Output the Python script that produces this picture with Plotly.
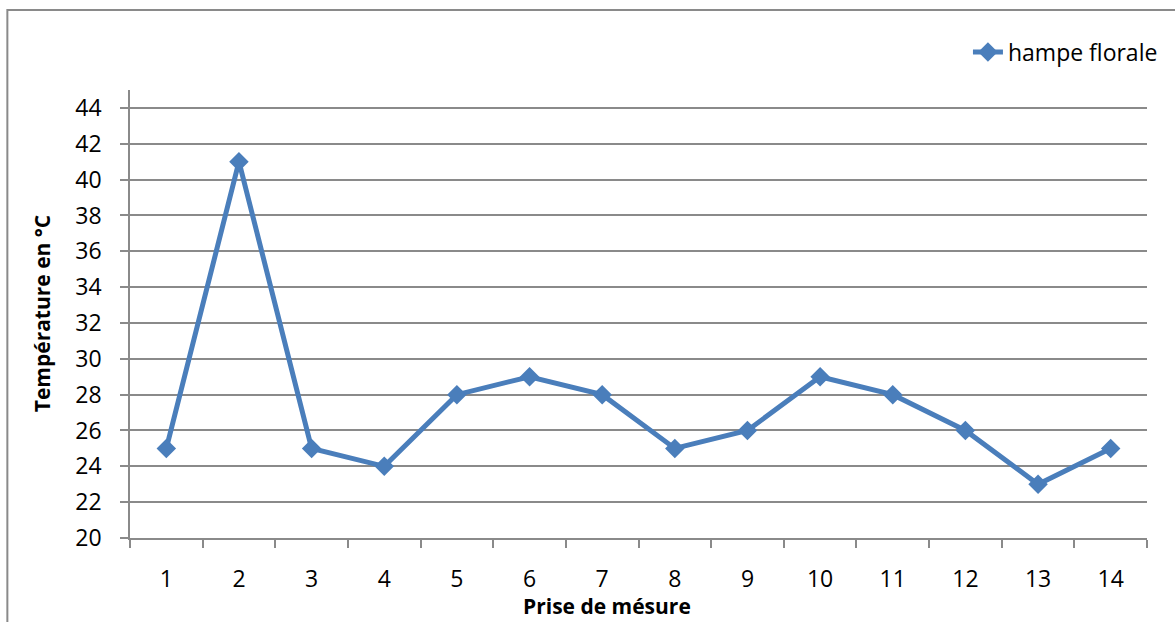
import plotly.graph_objects as go

# Measurements of the flower stalk temperature
mesures = ["1", "2", "3", "4", "5", "6", "7", "8", "9", "10", "11", "12", "13", "14"]
temperatures = [25, 41, 25, 24, 28, 29, 28, 25, 26, 29, 28, 26, 23, 25]
y_ticks = [20, 22, 24, 26, 28, 30, 32, 34, 36, 38, 40, 42, 44]

W, H = 1175, 622
L, R, T, B = 130, 25, 90, 84
pw, ph = W - L - R, H - T - B

def px_x(x):
    return (x - L) / pw

def px_y(y):
    return (H - B - y) / ph

FONT = "Open Sans"
BLUE = "#4A7EBB"
GRID = "#8a8a8a"
TICK_FONT = dict(family=FONT, size=23, color="black")

fig = go.Figure()
fig.add_trace(go.Scatter(
    x=mesures, y=temperatures, mode="lines+markers", name="hampe florale",
    line=dict(color=BLUE, width=5),
    marker=dict(symbol="diamond", size=15, color=BLUE),
))

fig.update_layout(
    width=W, height=H,
    margin=dict(l=L, r=R, t=T, b=B),
    paper_bgcolor="white", plot_bgcolor="white",
    font=dict(family=FONT, size=21, color="black"),
    showlegend=True,
    legend=dict(x=px_x(1166), xanchor="right", y=px_y(52), yanchor="middle",
                font=dict(size=23), bgcolor="rgba(0,0,0,0)"),
    xaxis=dict(
        type="category", range=[-0.5, 13.5], autorange=False,
        showgrid=False, showline=True, linecolor=GRID, linewidth=1.5,
        ticks="outside", ticklen=8, tickcolor=GRID, tickwidth=1.5, tickson="boundaries",
        ticklabelstandoff=20, tickfont=TICK_FONT, fixedrange=True,
    ),
    yaxis=dict(
        range=[20, 45], tickvals=y_ticks, showgrid=True, gridcolor=GRID, gridwidth=1.5,
        showline=True, linecolor=GRID, linewidth=1.5, zeroline=False,
        ticks="outside", ticklen=8, tickcolor=GRID, tickwidth=1.5,
        ticklabelstandoff=14, tickfont=TICK_FONT,
    ),
    shapes=[dict(
        type="rect", xref="paper", yref="paper",
        x0=px_x(7), x1=px_x(1185), y0=px_y(640), y1=px_y(10),
        line=dict(color=GRID, width=2), fillcolor="rgba(0,0,0,0)", layer="above",
    )],
    annotations=[
        dict(text="<b>Température en °C</b>", xref="paper", yref="paper",
             x=px_x(42), y=px_y(314), textangle=-90, showarrow=False,
             font=dict(size=21), xanchor="center", yanchor="middle"),
        dict(text="<b>Prise de mésure</b>", xref="paper", yref="paper",
             x=px_x(608), y=px_y(606), showarrow=False,
             font=dict(size=21), xanchor="center", yanchor="middle"),
    ],
)

fig.write_html("out.html")
